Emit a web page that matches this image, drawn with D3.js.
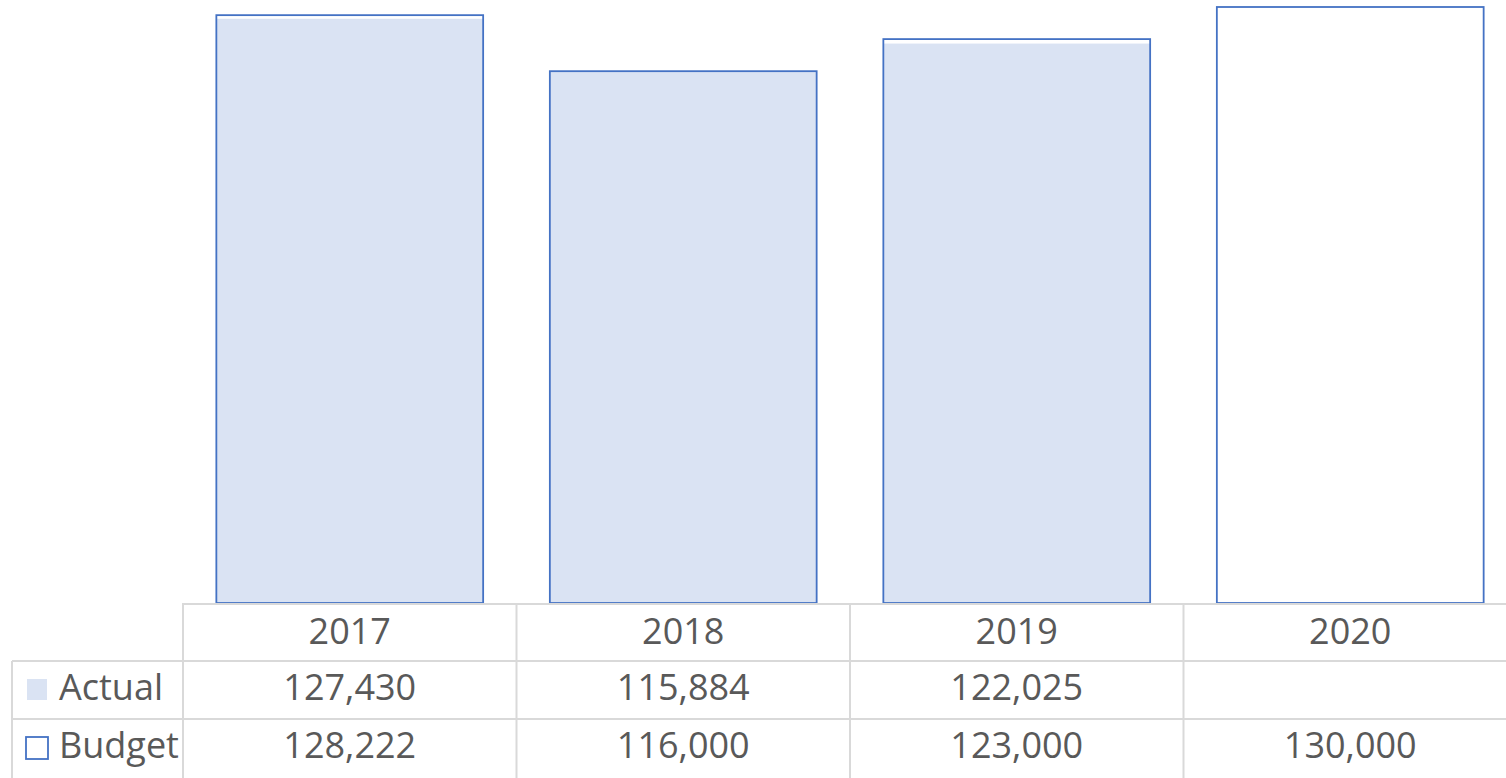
<!DOCTYPE html>
<html>
<head>
<meta charset="utf-8">
<script src="https://cdn.jsdelivr.net/npm/d3@7/dist/d3.min.js"></script>
<style>
  html, body { margin: 0; padding: 0; background: #fff; }
  svg { display: block; }
  text { font-family: "Open Sans", "Noto Sans", sans-serif; fill: #595959; }
</style>
</head>
<body>
<svg id="chart" width="1506" height="778"></svg>
<script>
// Yearly actual vs budget figures
const years = ["2017", "2018", "2019", "2020"];
const actual = [127430, 115884, 122025, null];
const budget = [128222, 116000, 123000, 130000];
const seriesNames = ["Actual", "Budget"];

const W = 1506, H = 778;
const svg = d3.select("#chart");

// Plot geometry
const plotLeft = 183, plotRight = 1517;
const baseY = 603, topY = 7;
const rowH = 58;
const labelLeft = 12;

const x = d3.scaleBand().domain(years).range([plotLeft, plotRight])
  .paddingInner(0.2).paddingOuter(0.1);
const y = d3.scaleLinear().domain([0, 130000]).range([baseY, topY]);

const fmt = d3.format(",");
const blue = "#4472C4", fill = "#DAE3F3", grid = "#D9D9D9";

// Actual: filled columns
svg.append("g").selectAll("rect")
  .data(years.map((k, i) => ({ k, v: actual[i] })).filter(d => d.v != null))
  .join("rect")
  .attr("x", d => x(d.k))
  .attr("y", d => y(d.v))
  .attr("width", x.bandwidth())
  .attr("height", d => baseY - y(d.v))
  .attr("fill", fill);

// Budget: outlined columns drawn over the actuals
svg.append("g").selectAll("rect")
  .data(years.map((k, i) => ({ k, v: budget[i] })))
  .join("rect")
  .attr("x", d => x(d.k))
  .attr("y", d => y(d.v))
  .attr("width", x.bandwidth())
  .attr("height", d => baseY - y(d.v))
  .attr("fill", "none")
  .attr("stroke", blue)
  .attr("stroke-width", 1.8);

// Data table grid
const gridG = svg.append("g").attr("stroke", grid).attr("stroke-width", 2).attr("fill", "none");
const colEdges = years.map(k => x(k) - (x.step() - x.bandwidth()) / 2);
// horizontal lines
gridG.append("line").attr("x1", plotLeft).attr("x2", W).attr("y1", baseY + 1).attr("y2", baseY + 1);
[1, 2].forEach(r => {
  gridG.append("line").attr("x1", labelLeft).attr("x2", W)
    .attr("y1", baseY + r * rowH).attr("y2", baseY + r * rowH);
});
// vertical lines
gridG.append("line").attr("x1", labelLeft).attr("x2", labelLeft).attr("y1", baseY + rowH).attr("y2", H);
colEdges.forEach(cx => {
  gridG.append("line").attr("x1", cx).attr("x2", cx).attr("y1", baseY).attr("y2", H);
});

const fs = 36;
// header row: categories
svg.append("g").selectAll("text").data(years).join("text")
  .attr("x", d => x(d) + x.bandwidth() / 2)
  .attr("y", baseY + 41)
  .attr("text-anchor", "middle")
  .attr("font-size", fs)
  .text(d => d);

// value rows
[actual, budget].forEach((vals, r) => {
  svg.append("g").selectAll("text").data(years.map((k, i) => ({ k, v: vals[i] })))
    .join("text")
    .attr("x", d => x(d.k) + x.bandwidth() / 2)
    .attr("y", baseY + rowH * (r + 1) + 39)
    .attr("text-anchor", "middle")
    .attr("font-size", fs)
    .text(d => d.v == null ? "" : fmt(d.v));
});

// row labels with legend keys
const leg = svg.append("g");
seriesNames.forEach((name, r) => {
  const cy = baseY + rowH * (r + 1) + rowH / 2;
  if (r === 0) {
    leg.append("rect").attr("x", 27).attr("y", cy - 11).attr("width", 20).attr("height", 21).attr("fill", fill);
  } else {
    leg.append("rect").attr("x", 26).attr("y", cy - 11).attr("width", 22).attr("height", 22)
      .attr("fill", "none").attr("stroke", blue).attr("stroke-width", 1.8);
  }
  leg.append("text").attr("x", 59).attr("y", baseY + rowH * (r + 1) + 39)
    .attr("font-size", fs).text(name);
});
</script>
</body>
</html>
